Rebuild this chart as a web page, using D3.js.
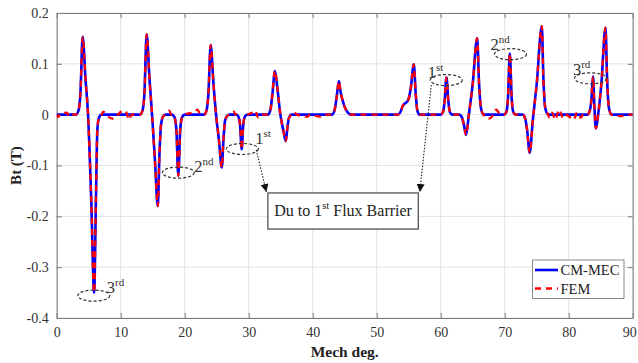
<!DOCTYPE html>
<html><head><meta charset="utf-8">
<script src="https://cdn.jsdelivr.net/npm/d3@7"></script>
<style>body{margin:0;background:#fff}svg{display:block}</style>
</head><body>
<svg id="c" width="638" height="363"></svg>
<script>
// ---------- data ----------
const xTicks = [0,10,20,30,40,50,60,70,80,90];
const yTicks = [-0.4,-0.3,-0.2,-0.1,0,0.1,0.2];
const yTickLabels = ["-0.4","-0.3","-0.2","-0.1","0","0.1","0.2"];
const seriesNames = ["CM-MEC","FEM"];

// CM-MEC waveform (Mech deg, Bt in T)
const cmMec = [
  [0,0],[3.0,0],[3.4,0.008],[3.7,0.04],[4.06,0.153],[4.5,0.07],[4.9,0.0],[5.4,-0.17],[5.85,-0.35],[6.15,-0.15],[6.35,-0.03],[6.6,-0.006],[7.0,0],
  [13.0,0],[13.4,0.008],[13.7,0.04],[14.06,0.158],[14.5,0.07],[14.9,0.0],[15.35,-0.09],[15.8,-0.18],[16.05,-0.08],[16.3,-0.02],[16.6,-0.004],[17.0,0],
  [18.0,0],[18.4,-0.005],[18.7,-0.03],[19.0,-0.12],[19.3,-0.03],[19.6,-0.005],[20.0,0],
  [23.0,0],[23.4,0.008],[23.7,0.04],[24.06,0.137],[24.5,0.06],[24.9,0.0],[25.35,-0.05],[25.8,-0.104],[26.05,-0.05],[26.3,-0.012],[26.6,-0.003],[27.0,0],
  [28.1,0],[28.4,-0.004],[28.65,-0.02],[28.9,-0.068],[29.15,-0.02],[29.4,-0.004],[29.8,0],
  [33.0,0],[33.4,0.01],[33.7,0.04],[34.1,0.086],[34.5,0.05],[34.95,0.0],[35.4,-0.03],[35.8,-0.052],[36.05,-0.025],[36.3,-0.006],[36.7,0],
  [43.0,0],[43.4,0.008],[43.7,0.03],[44.1,0.066],[44.35,0.045],[44.7,0.027],[45.1,0.012],[45.5,0.004],[46.0,0],
  [53.3,0],[53.7,0.005],[54.1,0.018],[54.5,0.023],[54.9,0.028],[55.3,0.05],[55.8,0.099],[56.1,0.04],[56.35,0.008],[56.7,0],
  [60.0,0],[60.35,0.005],[60.6,0.025],[60.9,0.073],[61.2,0.025],[61.45,0.005],[61.8,0],
  [62.9,0],[63.3,-0.005],[63.6,-0.018],[63.96,-0.04],[64.4,0.0],[65.0,0.06],[65.7,0.15],[66.0,0.06],[66.3,0.012],[66.7,0],
  [69.9,0],[70.25,0.005],[70.5,0.03],[70.8,0.12],[71.1,0.03],[71.35,0.005],[71.7,0],
  [72.8,0],[73.2,-0.008],[73.5,-0.03],[73.9,-0.075],[74.4,-0.01],[75.0,0.06],[75.8,0.174],[76.05,0.07],[76.35,0.012],[76.8,0],
  [82.9,0],[83.3,0.008],[83.55,0.03],[83.8,0.075],[84.0,0.02],[84.25,-0.027],[84.6,0.0],[85.1,0.06],[85.75,0.171],[86.0,0.07],[86.3,0.012],[86.7,0],
  [90,0]
];

// FEM: follows CM-MEC with small ripples in the flat regions
const femRipples = [
  [0.2,-0.005],[0.6,0.002],
  [1.6,0.004],[2.0,-0.004],[2.4,0],
  [7.3,0.006],[7.7,0.0],
  [8.9,-0.008],[9.4,-0.002],
  [10.4,0.008],[10.9,0.004],[11.3,-0.01],[11.7,0],
  [17.3,0.004],[17.6,0.008],[17.9,0],
  [21.6,0.006],[22.0,0.01],[22.4,0.002],
  [27.7,0.006],[27.9,0],
  [30.5,0.004],[31.0,0.008],[31.5,-0.006],[32.0,0.0],
  [37.1,0.005],[37.5,0],
  [39.2,-0.004],[39.6,0],
  [41.1,-0.004],[41.5,0],
  [67.5,-0.008],[68.0,-0.004],[68.7,0.01],[69.2,0.002],
  [77.0,-0.006],[77.4,0.004],[77.9,-0.01],[78.5,0.01],[79.1,-0.006],[79.5,0],
  [80.3,-0.006],[80.8,-0.01],[81.3,0.004],[81.9,-0.006],[82.3,0.002],
  [88.3,-0.003],[88.8,0]
];
const fem = cmMec.concat(femRipples).sort((a,b)=>a[0]-b[0]);

// annotation ellipses: [deg, value, main label, superscript]
const ellipses = [
  [5.8,-0.356,"3","rd"],
  [19.0,-0.114,"2","nd"],
  [29.0,-0.0675,"1","st"],
  [60.87,0.068,"1","st"],
  [70.9,0.119,"2","nd"],
  [83.4,0.0715,"3","rd"]
];
const boxText = ["Du to 1","st"," Flux Barrier"];

// ---------- layout ----------
const svg = d3.select("#c");
const W=638, H=363;
const m = {l:56.7, r:W-632.7, t:13, b:H-318};
const x = d3.scaleLinear().domain([0,90]).range([m.l, W-m.r]);
const y = d3.scaleLinear().domain([-0.4,0.2]).range([H-m.b, m.t]);
const serif = "'Liberation Serif','Times New Roman',serif";

// grid
const g = svg.append("g");
g.selectAll(".gx").data(xTicks).join("line")
  .attr("x1",d=>x(d)).attr("x2",d=>x(d)).attr("y1",y(-0.4)).attr("y2",y(0.2))
  .attr("stroke","#e3e3e3").attr("stroke-width",1);
g.selectAll(".gy").data(yTicks).join("line")
  .attr("x1",x(0)).attr("x2",x(90)).attr("y1",d=>y(d)).attr("y2",d=>y(d))
  .attr("stroke","#e3e3e3").attr("stroke-width",1);

// axes
const axB = d3.axisBottom(x).tickValues(xTicks).tickSizeInner(-5).tickSizeOuter(0).tickPadding(9);
const axT = d3.axisTop(x).tickValues(xTicks).tickSizeInner(-5).tickSizeOuter(0).tickFormat("");
const axL = d3.axisLeft(y).tickValues(yTicks).tickSizeInner(-5).tickSizeOuter(0).tickPadding(8)
  .tickFormat((d,i)=>yTickLabels[i]);
const axR = d3.axisRight(y).tickValues(yTicks).tickSizeInner(-5).tickSizeOuter(0).tickFormat("");
function styleAx(sel){
  sel.selectAll("path").attr("stroke","#7a7a7a");
  sel.selectAll("line").attr("stroke","#7a7a7a");
  sel.selectAll("text").attr("fill","#333").style("font-family",serif).style("font-size","14px");
}
const gB = svg.append("g").attr("transform",`translate(0,${y(-0.4)})`).call(axB).call(styleAx);
// keep the last label inside the window
gB.selectAll(".tick text").filter(d=>d===90).attr("text-anchor","end").attr("dx","3.5");
svg.append("g").attr("transform",`translate(0,${y(0.2)})`).call(axT).call(styleAx);
svg.append("g").attr("transform",`translate(${x(0)},0)`).call(axL).call(styleAx);
svg.append("g").attr("transform",`translate(${x(90)},0)`).call(axR).call(styleAx);

// axis titles
svg.append("text").attr("x",(x(0)+x(90))/2).attr("y",357).attr("text-anchor","middle")
  .style("font-family",serif).style("font-size","15.5px").style("font-weight","bold").attr("fill","#222")
  .text("Mech deg.");
svg.append("text").attr("transform",`translate(21,${(y(0.2)+y(-0.4))/2}) rotate(-90)`).attr("text-anchor","middle")
  .style("font-family",serif).style("font-size","15px").style("font-weight","bold").attr("fill","#222")
  .text("Bt (T)");

// clip
svg.append("clipPath").attr("id","clip").append("rect")
  .attr("x",x(0)).attr("y",y(0.2)).attr("width",x(90)-x(0)).attr("height",y(-0.4)-y(0.2));

const line = d3.line().x(d=>x(d[0])).y(d=>y(d[1])).curve(d3.curveMonotoneX);
const pl = svg.append("g").attr("clip-path","url(#clip)");
pl.append("path").datum(cmMec).attr("d",line).attr("fill","none")
  .attr("stroke","#0000ff").attr("stroke-width",2.6).attr("stroke-linejoin","round");
pl.append("path").datum(fem).attr("d",line).attr("fill","none")
  .attr("stroke","#ff0000").attr("stroke-width",2.3).attr("stroke-dasharray","6,5");

// annotations: ellipses + labels
const ann = svg.append("g");
const labelOff = [[13,-2.5],[16,-0.5],[13,-5],[-18.5,-2],[-20,-4.5],[-17.5,-3.5]];
ellipses.forEach((e,i)=>{
  const cx=x(e[0]), cy=y(e[1]);
  ann.append("ellipse").attr("cx",cx).attr("cy",cy).attr("rx",16).attr("ry",5.5)
    .attr("fill","none").attr("stroke","#333").attr("stroke-width",1.2).attr("stroke-dasharray","3,2");
  const t = ann.append("text").attr("x",cx+labelOff[i][0]).attr("y",cy+labelOff[i][1])
    .style("font-family",serif).attr("fill","#333");
  t.append("tspan").style("font-size","16.5px").text(e[2]);
  t.append("tspan").attr("dy",-7).style("font-size","11px").text(e[3]);
});

// box
const bx0=x(33.0), bx1=x(56.5), by0=y(-0.154), by1=y(-0.225);
ann.append("rect").attr("x",bx0).attr("y",by0).attr("width",bx1-bx0).attr("height",by1-by0)
  .attr("fill","#fff").attr("stroke","#444").attr("stroke-width",1.2);
const bt = ann.append("text").attr("x",(bx0+bx1)/2).attr("y",by0+23.5).attr("text-anchor","middle")
  .style("font-family",serif).style("font-size","16px").attr("fill","#222");
bt.append("tspan").text(boxText[0]);
bt.append("tspan").attr("dy",-7).style("font-size","10.5px").text(boxText[1]);
bt.append("tspan").attr("dy",7).text(boxText[2]);

// dotted leader lines with arrowheads
svg.append("defs").append("marker").attr("id","arr").attr("viewBox","0 0 10 10")
  .attr("refX",10).attr("refY",5).attr("markerWidth",8).attr("markerHeight",8)
  .attr("markerUnits","userSpaceOnUse").attr("orient","auto")
  .append("path").attr("d","M0,0L10,5L0,10Z").attr("fill","#111");
const leaders = [[x(29.0)+14,y(-0.0675)+1,bx0-1.5,by0],[x(60.87)-15,y(0.068)+5,bx1+1.5,by0]];
leaders.forEach(l=>{
  ann.append("line").attr("x1",l[0]).attr("y1",l[1]).attr("x2",l[2]).attr("y2",l[3]-1)
    .attr("stroke","#222").attr("stroke-width",1.1).attr("stroke-dasharray","1.5,1.5")
    .attr("marker-end","url(#arr)");
});

// legend
const lg = svg.append("g");
lg.append("rect").attr("x",532.5).attr("y",260).attr("width",91.5).attr("height",38.5)
  .attr("fill","#fff").attr("stroke","#8a8a8a").attr("stroke-width",1);
const lgItems = [{c:"#0000ff",dash:null,w:2.6},{c:"#ff0000",dash:"6,5",w:2.3}];
seriesNames.forEach((n,i)=>{
  const yy = 270+i*18.5;
  lg.append("line").attr("x1",535).attr("x2",558).attr("y1",yy).attr("y2",yy)
    .attr("stroke",lgItems[i].c).attr("stroke-width",lgItems[i].w)
    .attr("stroke-dasharray",lgItems[i].dash);
  lg.append("text").attr("x",560.5).attr("y",yy+5).style("font-family",serif)
    .style("font-size","14.5px").attr("fill","#222").text(n);
});
</script>
</body></html>
